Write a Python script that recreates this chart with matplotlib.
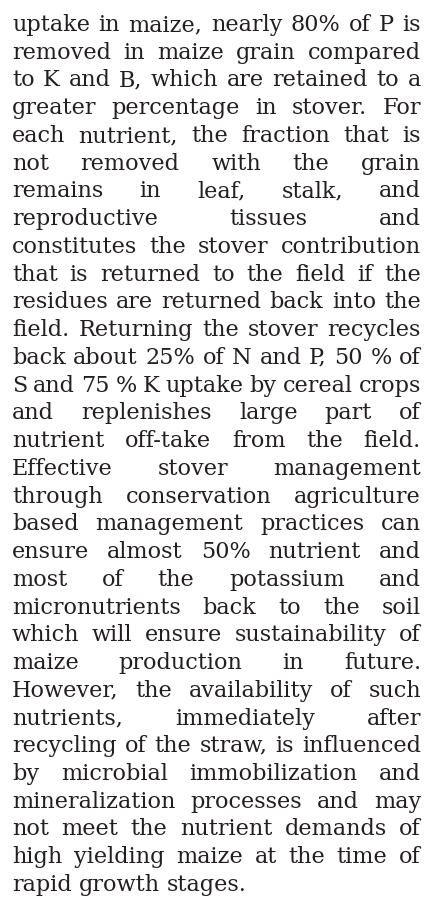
import matplotlib
matplotlib.use('Agg')
import matplotlib.pyplot as plt

# the paragraph, one entry per printed line
lines = [
    "uptake in maize, nearly 80% of P is",
    "removed in maize grain compared",
    "to K and B, which are retained to a",
    "greater percentage in stover. For",
    "each nutrient, the fraction that is",
    "not removed with the grain",
    "remains in leaf, stalk, and",
    "reproductive tissues and",
    "constitutes the stover contribution",
    "that is returned to the field if the",
    "residues are returned back into the",
    "field. Returning the stover recycles",
    "back about 25% of N and P, 50 % of",
    "S and 75 % K uptake by cereal crops",
    "and replenishes large part of",
    "nutrient off-take from the field.",
    "Effective stover management",
    "through conservation agriculture",
    "based management practices can",
    "ensure almost 50% nutrient and",
    "most of the potassium and",
    "micronutrients back to the soil",
    "which will ensure sustainability of",
    "maize production in future.",
    "However, the availability of such",
    "nutrients, immediately after",
    "recycling of the straw, is influenced",
    "by microbial immobilization and",
    "mineralization processes and may",
    "not meet the nutrient demands of",
    "high yielding maize at the time of",
    "rapid growth stages.",
]

W, H = 426, 905
left, right = 12, 421
top_base, step = 31, 27.74
font = 'DejaVu Serif'
color = '#231f20'
min_gap = 0.27  # smallest word gap, in em

fig = plt.figure(figsize=(W / 100, H / 100), dpi=100)
ax = fig.add_axes([0, 0, 1, 1])
ax.set_xlim(0, W)
ax.set_ylim(H, 0)
ax.axis('off')
r = fig.canvas.get_renderer()


def width(s, size):
    t = ax.text(0, 0, s, fontsize=size, family=font)
    w = t.get_window_extent(r).width
    t.remove()
    return w


# largest size at which every line fits with gaps of at least min_gap em
test = 20
em = test * 100 / 72
sizes = []
for l in lines:
    words = l.split(' ')
    wsum = sum(width(w, test) for w in words)
    sizes.append(test * (right - left) / (wsum + (len(words) - 1) * min_gap * em))
size = min(sizes)

for i, line in enumerate(lines):
    y = top_base + i * step
    words = line.split(' ')
    ws = [width(w, size) for w in words]
    if i == len(lines) - 1 or len(words) == 1:
        gap = width('a a', size) - 2 * width('a', size)
    else:
        gap = (right - left - sum(ws)) / (len(words) - 1)
    x = left
    for w, wd in zip(words, ws):
        ax.text(x, y, w, fontsize=size, family=font, color=color,
                ha='left', va='baseline')
        x += wd + gap

fig.savefig('out.png', dpi=100, facecolor='white')
